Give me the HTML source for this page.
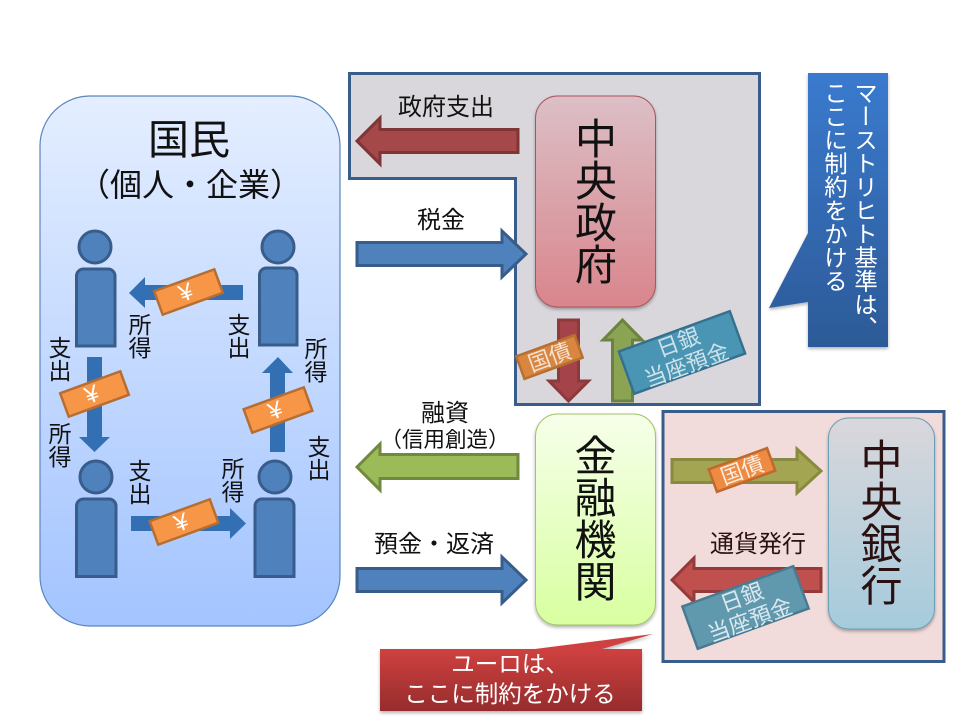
<!DOCTYPE html>
<html><head><meta charset="utf-8"><style>
html,body{margin:0;padding:0;background:#fff;width:960px;height:720px;overflow:hidden}
svg{display:block}
text{font-family:"Liberation Sans","Noto Sans CJK JP",sans-serif;fill:#111}
.c{text-anchor:middle}
.s{font-size:23px}
.w{fill:#fff}
.b{fill:#4f81bd;stroke:#385d8a;stroke-width:3}
</style></head><body>
<svg width="960" height="720" viewBox="0 0 960 720" xmlns="http://www.w3.org/2000/svg">
<defs>
<linearGradient id="gk" x1="0" y1="0" x2="0" y2="1"><stop offset="0" stop-color="#e4eeff"/><stop offset="1" stop-color="#a3c4ff"/></linearGradient>
<linearGradient id="gg" x1="0" y1="0" x2="0" y2="1"><stop offset="0" stop-color="#dcbfc6"/><stop offset="1" stop-color="#d9858c"/></linearGradient>
<linearGradient id="gf" x1="0" y1="0" x2="0" y2="1"><stop offset="0" stop-color="#f6ffea"/><stop offset="1" stop-color="#d8ffa0"/></linearGradient>
<linearGradient id="gc" x1="0" y1="0" x2="0" y2="1"><stop offset="0" stop-color="#d9d7dc"/><stop offset="1" stop-color="#a5cbdc"/></linearGradient>
<linearGradient id="gb" gradientUnits="userSpaceOnUse" x1="0" y1="73" x2="0" y2="347"><stop offset="0" stop-color="#3a7ace"/><stop offset="1" stop-color="#2c5a97"/></linearGradient>
<linearGradient id="gr2" gradientUnits="userSpaceOnUse" x1="0" y1="649" x2="0" y2="711"><stop offset="0" stop-color="#cf4140"/><stop offset="1" stop-color="#962c2c"/></linearGradient>
<filter id="sh" x="-10%" y="-10%" width="120%" height="120%"><feDropShadow dx="0" dy="2" stdDeviation="1.5" flood-color="#000" flood-opacity=".3"/></filter>
</defs>

<!-- regions -->
<path d="M349.500 73.500H759.500V404.500H515.500V178.500H349.500Z" fill="#d9d7dc" stroke="#385d8a" stroke-width="3"/>
<rect x="663" y="411.500" width="281" height="250" fill="#f2dcdb" stroke="#385d8a" stroke-width="3"/>

<!-- kokumin -->
<rect x="40" y="96" width="300" height="530" rx="50" fill="url(#gk)" stroke="#5b86bd" stroke-width="1.200"/>
<text class="c" x="189" y="154" font-size="41">国民</text>
<text class="c" x="190" y="196" font-size="32">（個人・企業）</text>

<!-- persons -->
<g fill="#4f81bd" stroke="#385d8a" stroke-width="3">
<circle cx="95" cy="247" r="16"/>
<path d="M76.500 346V276a7 7 0 0 1 7-7H108a7 7 0 0 1 7 7V346Z"/>
<circle cx="278" cy="247" r="16"/>
<path d="M259.500 345V275a7 7 0 0 1 7-7H290a7 7 0 0 1 7 7V345Z"/>
<circle cx="96" cy="477" r="16"/>
<path d="M76.500 576.500V506a7 7 0 0 1 7-7H109a7 7 0 0 1 7 7V576.500Z"/>
<circle cx="275" cy="477" r="16"/>
<path d="M255 576.500V506a7 7 0 0 1 7-7H287a7 7 0 0 1 7 7V576.500Z"/>
</g>

<!-- small arrows -->
<g fill="#336fb3">
<path d="M129 293L145 277V285H243V300H145V308Z"/>
<path d="M87 357H102V437H110L94.500 452L79 437H87Z"/>
<path d="M278 357L293 373H285V452H270V373H262Z"/>
<path d="M131 516H230V508L246 523.500L230 539V531H131Z"/>
</g>

<!-- bills -->
<g fill="#f79646" stroke="#b66d31" stroke-width="2.500">
<rect x="-32" y="-12.500" width="64" height="25" transform="translate(188.500 292) rotate(-20)"/>
<rect x="-32" y="-12.500" width="64" height="25" transform="translate(94.500 394) rotate(-20)"/>
<rect x="-32" y="-12.500" width="64" height="25" transform="translate(278 410) rotate(-20)"/>
<rect x="-32" y="-12.500" width="64" height="25" transform="translate(184 522) rotate(-20)"/>
</g>
<g font-size="24">
<text class="c w" transform="translate(188.500 300) rotate(-20)">¥</text>
<text class="c w" transform="translate(94.500 402) rotate(-20)">¥</text>
<text class="c w" transform="translate(278 418) rotate(-20)">¥</text>
<text class="c w" transform="translate(184 530) rotate(-20)">¥</text>
</g>

<!-- small labels -->
<g class="s">
<text class="c" x="60" y="356">支</text><text class="c" x="60" y="379">出</text>
<text class="c" x="60" y="442">所</text><text class="c" x="60" y="465">得</text>
<text class="c" x="140" y="333">所</text><text class="c" x="140" y="356">得</text>
<text class="c" x="239" y="333">支</text><text class="c" x="239" y="356">出</text>
<text class="c" x="316" y="357">所</text><text class="c" x="316" y="380">得</text>
<text class="c" x="319" y="455">支</text><text class="c" x="319" y="478">出</text>
<text class="c" x="140" y="479">支</text><text class="c" x="140" y="502">出</text>
<text class="c" x="233" y="477">所</text><text class="c" x="233" y="500">得</text>
</g>

<!-- big arrows -->
<path d="M357 141L380 118V129.500H518V152.500H380V164Z" fill="#a5484a" stroke="#7f3436" stroke-width="3"/>
<path d="M357 242.500H502V231L526 254L502 277V265.500H357Z" class="b"/>
<path d="M558.500 320H578.500V381H588.500L568.500 401L549 381H558.500Z" fill="#a5434a" stroke="#8a3b3e" stroke-width="3"/>
<path d="M622.500 320L642 340H632.500V401H612.500V340H603Z" fill="#8ba453" stroke="#6c8240" stroke-width="3"/>
<path d="M357 467L380 444V454.500H518V478.500H380V490Z" fill="#9bbb59" stroke="#71893f" stroke-width="3"/>
<path d="M357 568.500H502V557L526 580L502 603V591.500H357Z" class="b"/>
<path d="M672 459.500H797V449L821 471L797 493V482.500H672Z" fill="#a3a552" stroke="#888a3f" stroke-width="3"/>
<path d="M672 580L694 558V568.500H821V591.500H694V602Z" fill="#c0504d" stroke="#943a3a" stroke-width="3"/>

<!-- arrow labels -->
<g font-size="24">
<text class="c" x="446" y="115">政府支出</text>
<text class="c" x="441" y="228">税金</text>
<text class="c" x="445" y="421">融資</text>
<text class="c" x="434" y="552">預金・返済</text>
<text class="c" x="758" y="552" style="fill:#2a1010">通貨発行</text>
</g>
<text class="c" x="445" y="447" font-size="21.500">（信用創造）</text>

<!-- main nodes -->
<rect x="535.500" y="96" width="120" height="211" rx="22" fill="url(#gg)" stroke="#a8545c" filter="url(#sh)"/>
<g font-size="42">
<text class="c" x="596" y="154">中</text><text class="c" x="596" y="196">央</text><text class="c" x="596" y="238">政</text><text class="c" x="596" y="280">府</text>
</g>
<rect x="535.500" y="414" width="120" height="211" rx="22" fill="url(#gf)" stroke="#a5c36a" filter="url(#sh)"/>
<g font-size="42">
<text class="c" x="595.500" y="471">金</text><text class="c" x="595.500" y="513">融</text><text class="c" x="595.500" y="555">機</text><text class="c" x="595.500" y="597">関</text>
</g>
<rect x="828.500" y="418" width="106" height="211" rx="20" fill="url(#gc)" stroke="#6b9fb5" filter="url(#sh)"/>
<g font-size="42">
<text class="c" x="881.500" y="475" style="fill:#2a1010">中</text><text class="c" x="881.500" y="517" style="fill:#2a1010">央</text><text class="c" x="881.500" y="559" style="fill:#2a1010">銀</text><text class="c" x="881.500" y="601" style="fill:#2a1010">行</text>
</g>

<!-- kokusai / nichigin bills -->
<g transform="translate(549.500 357) rotate(-20)">
<rect x="-31" y="-12" width="62" height="24" fill="#d98641" stroke="#b8702f" stroke-width="2.500"/>
<text class="c" y="8" font-size="22" style="fill:#f3e2d4">国債</text>
</g>
<g transform="translate(682 352.500) rotate(-20)">
<rect x="-59" y="-22.500" width="118" height="45" fill="#4a95b3" stroke="#36708f" stroke-width="2.500"/>
<text class="c" y="-3" font-size="22" style="fill:#cfe2ea">日銀</text>
<text class="c" y="21" font-size="22" style="fill:#cfe2ea">当座預金</text>
</g>
<g transform="translate(742 470) rotate(-20)">
<rect x="-31" y="-12" width="62" height="24" fill="#ed8b42" stroke="#c0692c" stroke-width="2.500"/>
<text class="c" y="8" font-size="22" style="fill:#fbeee3">国債</text>
</g>
<g transform="translate(745.500 607.500) rotate(-20)">
<rect x="-59" y="-22.500" width="118" height="45" fill="#6098ae" stroke="#4a7a91" stroke-width="2.500"/>
<text class="c" y="-3" font-size="22" style="fill:#dbe8ee">日銀</text>
<text class="c" y="21" font-size="22" style="fill:#dbe8ee">当座預金</text>
</g>

<!-- callouts -->
<path d="M808 73H888V347H808V302L769 308L808 233Z" fill="url(#gb)" filter="url(#sh)"/>
<text x="864" y="81" font-size="23.500" style="writing-mode:vertical-rl;fill:#fff">マーストリヒト基準は、</text>
<text x="834" y="81" font-size="23.500" style="writing-mode:vertical-rl;fill:#fff">ここに制約をかける</text>
<path d="M380 649H535L653 634L602 649H642V711H380Z" fill="url(#gr2)" filter="url(#sh)"/>
<text class="c w" x="510" y="672" font-size="23.500">ユーロは、</text>
<text class="c w" x="510" y="702" font-size="23.500">ここに制約をかける</text>
</svg>
</body></html>
